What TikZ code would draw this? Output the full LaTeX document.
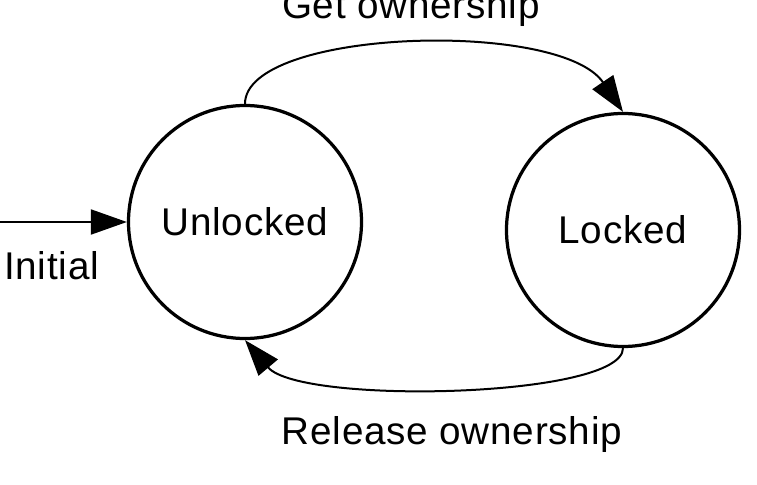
\documentclass[tikz,border=0pt]{standalone}
\usepackage{fontspec}
\setmainfont{Liberation Sans}[LetterSpace=2]
\usetikzlibrary{arrows.meta,positioning}

\begin{document}
\begin{tikzpicture}[
  state/.style={
    draw,
    circle,
    line width=0.065cm,
    minimum size=4.66cm,
    inner sep=0pt,
    align=center,
    font=\fontsize{22}{26}\selectfont
  },
  label/.style={anchor=base,font=\fontsize{22}{26}\selectfont},
  arrow/.style={-{Triangle[length=0.72cm,width=0.5cm]},line width=0.04cm}
]
  \useasboundingbox (0,0) rectangle (15.14,-9.7);
  \node[state] (unlocked) at (4.9,-4.44) {Unlocked};
  \node[state,on grid,below right=0.16cm and 7.56cm of unlocked] (locked) {Locked};
  \coordinate (init) at (0,-4.44);
  \node[label] (initlabel) at (1.03,-5.58) {Initial};
  \node[label] (getlabel) at (8.22,-0.36) {Get ownership};
  \node[label] (releaselabel) at (9.04,-8.9) {Release ownership};
  \draw[arrow] (init) -- (unlocked.west);
  \draw[arrow] (unlocked.north) .. controls +(0,1.5) and +(-1.26,1.86) .. (locked.north);
  \draw[arrow] (locked.south) .. controls +(0,-1.0) and +(1.1,-1.3) .. (unlocked.south);
\end{tikzpicture}
\end{document}
